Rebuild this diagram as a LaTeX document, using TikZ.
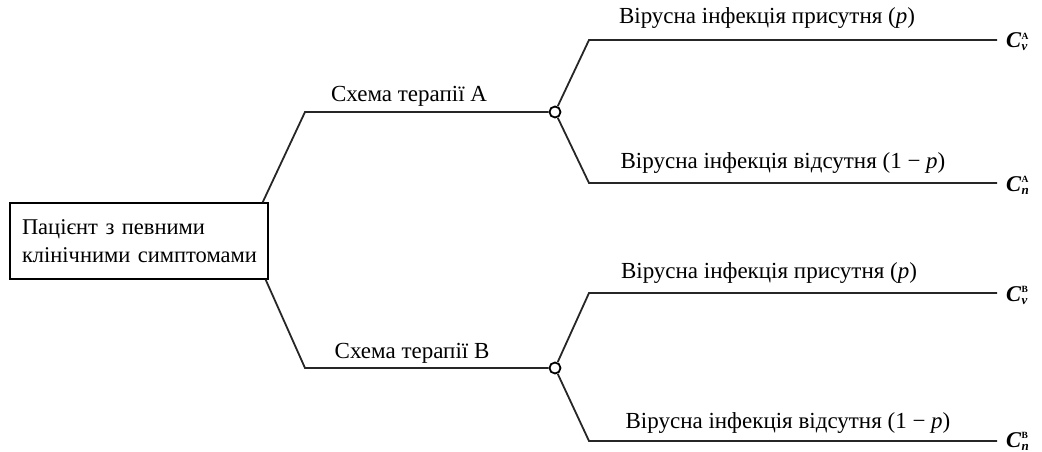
\documentclass[tikz,border=0pt]{standalone}
\usepackage{fontspec}
\setmainfont{Liberation Serif}[Ligatures=TeX]
% payoff label: italic C with a subscript and a small upright superscript stacked
\newcommand{\payoffC}[2]{{\bfseries\itshape C}\kern0.5pt%
  \raisebox{-3pt}{\rlap{\fontsize{13}{13}\selectfont\bfseries\itshape #1}}%
  \raisebox{8.5pt}{\fontsize{9.5}{10}\selectfont\bfseries #2}}
\begin{document}
\begin{tikzpicture}[x=1pt,y=-1pt,
  branch/.style={line width=1.8pt, black!85},
  chance/.style={circle, draw=black, line width=1.8pt, fill=white, minimum size=11pt, inner sep=0pt},
  lbl/.style={font=\fontsize{23}{27}\selectfont, inner sep=0pt},
  payoff/.style={font=\fontsize{22.5}{25}\selectfont, inner sep=0pt, anchor=base west},
  box/.style={draw=black, line width=1.3pt, minimum width=258pt, minimum height=76pt,
    align=left, text width=242pt, inner xsep=8pt, inner ysep=6pt, font=\fontsize{22.5}{28}\selectfont}]
\useasboundingbox (0,0) rectangle (1042,452);

% root box
\node[box] (root) at (139,241) {\hspace*{4pt}Пацієнт з певними\\\hspace*{4pt}клінічними симптомами};

% therapy branches
\coordinate (sA) at ([xshift=-6pt]root.north east);
\coordinate (sB) at ([xshift=-3pt]root.south east);
\coordinate (kA) at (305,112);
\coordinate (kB) at (305,368);
\node[chance] (cA) at (555,112) {};
\node[chance] (cB) at (555,368) {};
\draw[branch] (sA) -- (kA) -- (cA);
\draw[branch] (sB) -- (kB) -- (cB);
\node[lbl] (tA) at (409,96) {Схема терапії А};
\node[lbl] (tB) at (412,353) {Схема терапії В};

% outcome branches
\coordinate (kA1) at (589,40);
\coordinate (kA2) at (589,183);
\coordinate (kB1) at (589,293);
\coordinate (kB2) at (589,441);
\coordinate (eA1) at (997,40);
\coordinate (eA2) at (997,183);
\coordinate (eB1) at (997,293);
\coordinate (eB2) at (997,441);
\draw[branch] (cA) -- (kA1) -- (eA1);
\draw[branch] (cA) -- (kA2) -- (eA2);
\draw[branch] (cB) -- (kB1) -- (eB1);
\draw[branch] (cB) -- (kB2) -- (eB2);

\node[lbl] (oA1) at (767,18) {Вірусна інфекція присутня (\textit{p})};
\node[lbl] (oA2) at (783,163) {Вірусна інфекція відсутня (1 − \textit{p})};
\node[lbl] (oB1) at (769,273) {Вірусна інфекція присутня (\textit{p})};
\node[lbl] (oB2) at (788,423) {Вірусна інфекція відсутня (1 − \textit{p})};

% payoffs
\node[payoff] (pA1) at ([xshift=9pt,yshift=-8pt]eA1) {\payoffC{v}{А}};
\node[payoff] (pA2) at ([xshift=9pt,yshift=-8pt]eA2) {\payoffC{n}{А}};
\node[payoff] (pB1) at ([xshift=9pt,yshift=-8pt]eB1) {\payoffC{v}{В}};
\node[payoff] (pB2) at ([xshift=9pt,yshift=-6pt]eB2) {\payoffC{n}{В}};
\end{tikzpicture}
\end{document}
